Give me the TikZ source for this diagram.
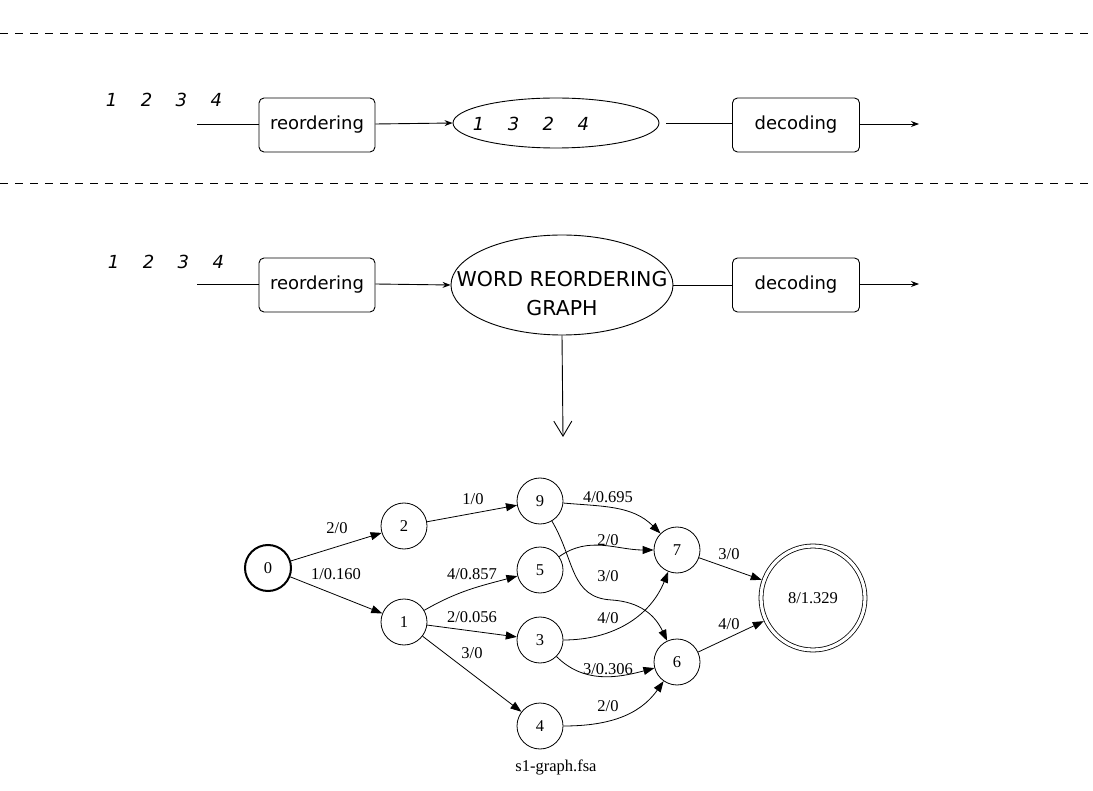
\documentclass[tikz,border=0pt]{standalone}
\usepackage{fontspec}
\setmainfont{DejaVu Sans}
\newfontfamily\gvfont{Liberation Serif}
\usetikzlibrary{arrows.meta,shapes.geometric}
\def\ngap{\hspace{23.5pt}}
\begin{document}
\begin{tikzpicture}[x=1pt,y=1pt,
  procbox/.style={draw, rounded corners=5pt, line width=0.9pt, minimum height=54pt,
    inner sep=0pt, font=\fontsize{18}{22}\selectfont},
  numtext/.style={inner sep=0pt, font=\fontsize{18}{22}\selectfont\itshape},
  oval/.style={ellipse, draw, line width=0.9pt, inner sep=0pt},
  flow/.style={line width=0.9pt},
  flowarrow/.style={line width=0.9pt, -{Stealth[length=8pt,width=6pt]}},
  sep/.style={line width=0.9pt, dash pattern=on 8pt off 7pt},
  gnode/.style={circle, draw, line width=0.8pt, minimum size=46pt, inner sep=0pt,
    font=\gvfont\fontsize{16.5}{19}\selectfont},
  gedge/.style={line width=0.8pt, -{Triangle[length=11pt,width=8pt]}},
  glabel/.style={inner sep=0pt, font=\gvfont\fontsize{16.5}{19}\selectfont}]
\useasboundingbox (0,0) rectangle (1093,-791);

% separators
\coordinate (sa) at (0,-33); \coordinate (sb) at (1093,-33);
\coordinate (sc) at (0,-183); \coordinate (sd) at (1093,-183);
\draw[sep] (sa) -- (sb);
\draw[sep] (sc) -- (sd);

% row 1
\node[numtext] (in1) at (164,-100) {1\ngap 2\ngap 3\ngap 4};
\coordinate (s1) at (197,-124);
\node[procbox, minimum width=116pt] (r1) at (317,-125) {reordering};
\node[oval, minimum width=206pt, minimum height=50pt] (e1) at (556,-123) {};
\node[numtext] (t1) at (531,-124) {1\ngap 3\ngap 2\ngap 4};
\node[procbox, minimum width=127pt] (d1) at (796,-125) {decoding};
\coordinate (o1) at (919,-124);
\draw[flow] (s1) -- (r1.west |- s1);
\draw[flowarrow] (r1.east |- s1) -- (e1.west);
\draw[flow, shorten <=7pt] (e1.east) -- (d1.west |- e1.east);
\draw[flowarrow] (d1.east |- o1) -- (o1);

% row 2
\node[numtext] (in2) at (166,-262) {1\ngap 2\ngap 3\ngap 4};
\coordinate (s2) at (197,-284);
\node[procbox, minimum width=116pt] (r2) at (317,-285) {reordering};
\node[oval, minimum width=222pt, minimum height=100pt] (e2) at (562,-285) {};
\node[inner sep=0pt, align=center, font=\fontsize{20.5}{29}\selectfont] (t2) at (562,-294) {WORD REORDERING\\GRAPH};
\node[procbox, minimum width=127pt] (d2) at (796,-285) {decoding};
\coordinate (o2) at (919,-284);
\draw[flow] (s2) -- (r2.west |- s2);
\draw[flowarrow] (r2.east |- s2) -- (e2.west);
\draw[flow] (e2.east) -- (d2.west |- e2.east);
\draw[flowarrow] (d2.east |- o2) -- (o2);
\coordinate (v) at (563,-437);
\draw[line width=0.9pt, -{Straight Barb[length=15pt,width=18pt]}] (e2.south) -- (v);

% graph
\node[gnode, line width=2pt] (g0) at (268,-568) {0};
\node[gnode] (g2) at (404,-526) {2};
\node[gnode] (g1) at (404,-622) {1};
\node[gnode] (g9) at (540,-501) {9};
\node[gnode] (g5) at (540,-570) {5};
\node[gnode] (g3) at (540,-640) {3};
\node[gnode] (g4) at (540,-726) {4};
\node[gnode] (g7) at (677,-550) {7};
\node[gnode] (g6) at (677,-662) {6};
\node[gnode, minimum size=104pt, double, double distance=3.2pt, outer sep=2.4pt] (g8) at (813,-598) {8/1.329};

\draw[gedge] (g0) -- (g2);
\draw[gedge] (g0) -- (g1);
\draw[gedge] (g2) -- (g9);
\draw[gedge] (g1) to[out=30,in=195] (g5);
\draw[gedge] (g1) -- (g3);
\draw[gedge] (g1) -- (g4);
\draw[gedge] (g9) to[out=-5,in=135] (g7);
\draw[gedge] (g5) to[out=35,in=180] (g7);
\draw[gedge] (g9) .. controls (575,-560) and (570,-598) .. (612,-600) .. controls (640,-602) and (655,-615) .. (g6);
\draw[gedge] (g3) to[out=0,in=-112] (g7);
\draw[gedge] (g3) to[out=-45,in=195] (g6);
\draw[gedge] (g4) to[out=0,in=-125] (g6);
\draw[gedge] (g7) -- (g8);
\draw[gedge] (g6) -- (g8);

\node[glabel] (l02) at (337,-528) {2/0};
\node[glabel] (l01) at (336,-574) {1/0.160};
\node[glabel] (l29) at (473,-499) {1/0};
\node[glabel] (l15) at (472,-574) {4/0.857};
\node[glabel] (l13) at (472,-617) {2/0.056};
\node[glabel] (l14) at (472,-653) {3/0};
\node[glabel] (l97) at (608,-497) {4/0.695};
\node[glabel] (l57) at (608,-540) {2/0};
\node[glabel] (l96) at (608,-576) {3/0};
\node[glabel] (l37) at (608,-618) {4/0};
\node[glabel] (l36) at (608,-669) {3/0.306};
\node[glabel] (l46) at (608,-706) {2/0};
\node[glabel] (l78) at (729,-554) {3/0};
\node[glabel] (l68) at (729,-624) {4/0};
\node[glabel] (cap) at (556,-767) {s1-graph.fsa};
\end{tikzpicture}
\end{document}
